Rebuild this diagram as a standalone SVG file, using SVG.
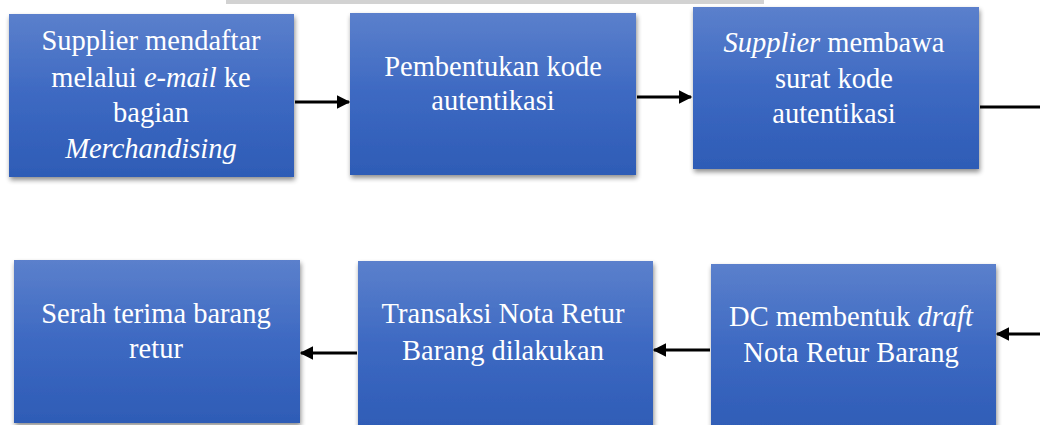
<svg xmlns="http://www.w3.org/2000/svg" width="1040" height="425" viewBox="0 0 1040 425">
<style>
.box{fill:url(#g);filter:url(#sh)}
text{font-family:"Liberation Serif",Tinos,"Times New Roman",Times,"DejaVu Serif","Noto Serif",FreeSerif,Georgia,serif;font-size:28.5px;fill:#ffffff;text-anchor:middle}
.i{font-style:italic}
.c{stroke:#000;stroke-width:3.2;fill:none}
</style>
<defs>
<linearGradient id="g" x1="0" y1="0" x2="0" y2="1">
<stop offset="0" stop-color="#5b80cc"/>
<stop offset="0.5" stop-color="#3d69c2"/>
<stop offset="1" stop-color="#2e5cb6"/>
</linearGradient>
<filter id="sh" x="-10%" y="-10%" width="125%" height="125%">
<feGaussianBlur in="SourceAlpha" stdDeviation="2.5"/>
<feOffset dx="1" dy="3" result="b"/>
<feComponentTransfer><feFuncA type="linear" slope="0.45"/></feComponentTransfer>
<feMerge><feMergeNode/><feMergeNode in="SourceGraphic"/></feMerge>
</filter>
<marker id="ah" viewBox="0 0 10 10" refX="9" refY="5" markerWidth="4.4" markerHeight="4.2" orient="auto" markerUnits="strokeWidth">
<path d="M0,0 L10,5 L0,10 z" fill="#000"/>
</marker>
</defs>
<rect width="1040" height="425" fill="#ffffff"/>
<rect x="226" y="0" width="538" height="4" fill="#d2d2d2"/>

<g id="connectors">
<line class="c" x1="295" y1="102" x2="349" y2="102" marker-end="url(#ah)"/>
<line class="c" x1="637" y1="97" x2="691" y2="97" marker-end="url(#ah)"/>
<line class="c" x1="980" y1="107" x2="1040" y2="107"/>
<line class="c" x1="1040" y1="334" x2="997" y2="334" marker-end="url(#ah)"/>
<line class="c" x1="710" y1="350" x2="654" y2="350" marker-end="url(#ah)"/>
<line class="c" x1="357" y1="353" x2="301" y2="353" marker-end="url(#ah)"/>
</g>

<g id="n1">
<rect class="box" x="9" y="14" width="285" height="163"/>
<text x="151" y="50">Supplier mendaftar</text>
<text x="151" y="87">melalui <tspan class="i">e-mail</tspan> ke</text>
<text x="151" y="122">bagian</text>
<text class="i" x="151" y="158">Merchandising</text>
</g>
<g id="n2">
<rect class="box" x="350" y="13" width="286" height="162"/>
<text x="493" y="76">Pembentukan kode</text>
<text x="493" y="110">autentikasi</text>
</g>
<g id="n3">
<rect class="box" x="693" y="7" width="286" height="162"/>
<text x="834" y="52"><tspan class="i">Supplier</tspan> membawa</text>
<text x="834" y="88">surat kode</text>
<text x="834" y="123">autentikasi</text>
</g>
<g id="n4">
<rect class="box" x="14" y="260" width="286" height="163"/>
<text x="156" y="323">Serah terima barang</text>
<text x="156" y="358">retur</text>
</g>
<g id="n5">
<rect class="box" x="358" y="261" width="295" height="170"/>
<text x="503" y="323">Transaksi Nota Retur</text>
<text x="503" y="360">Barang dilakukan</text>
</g>
<g id="n6">
<rect class="box" x="711" y="264" width="285" height="170"/>
<text x="851" y="326">DC membentuk <tspan class="i">draft</tspan></text>
<text x="851" y="362">Nota Retur Barang</text>
</g>
</svg>
